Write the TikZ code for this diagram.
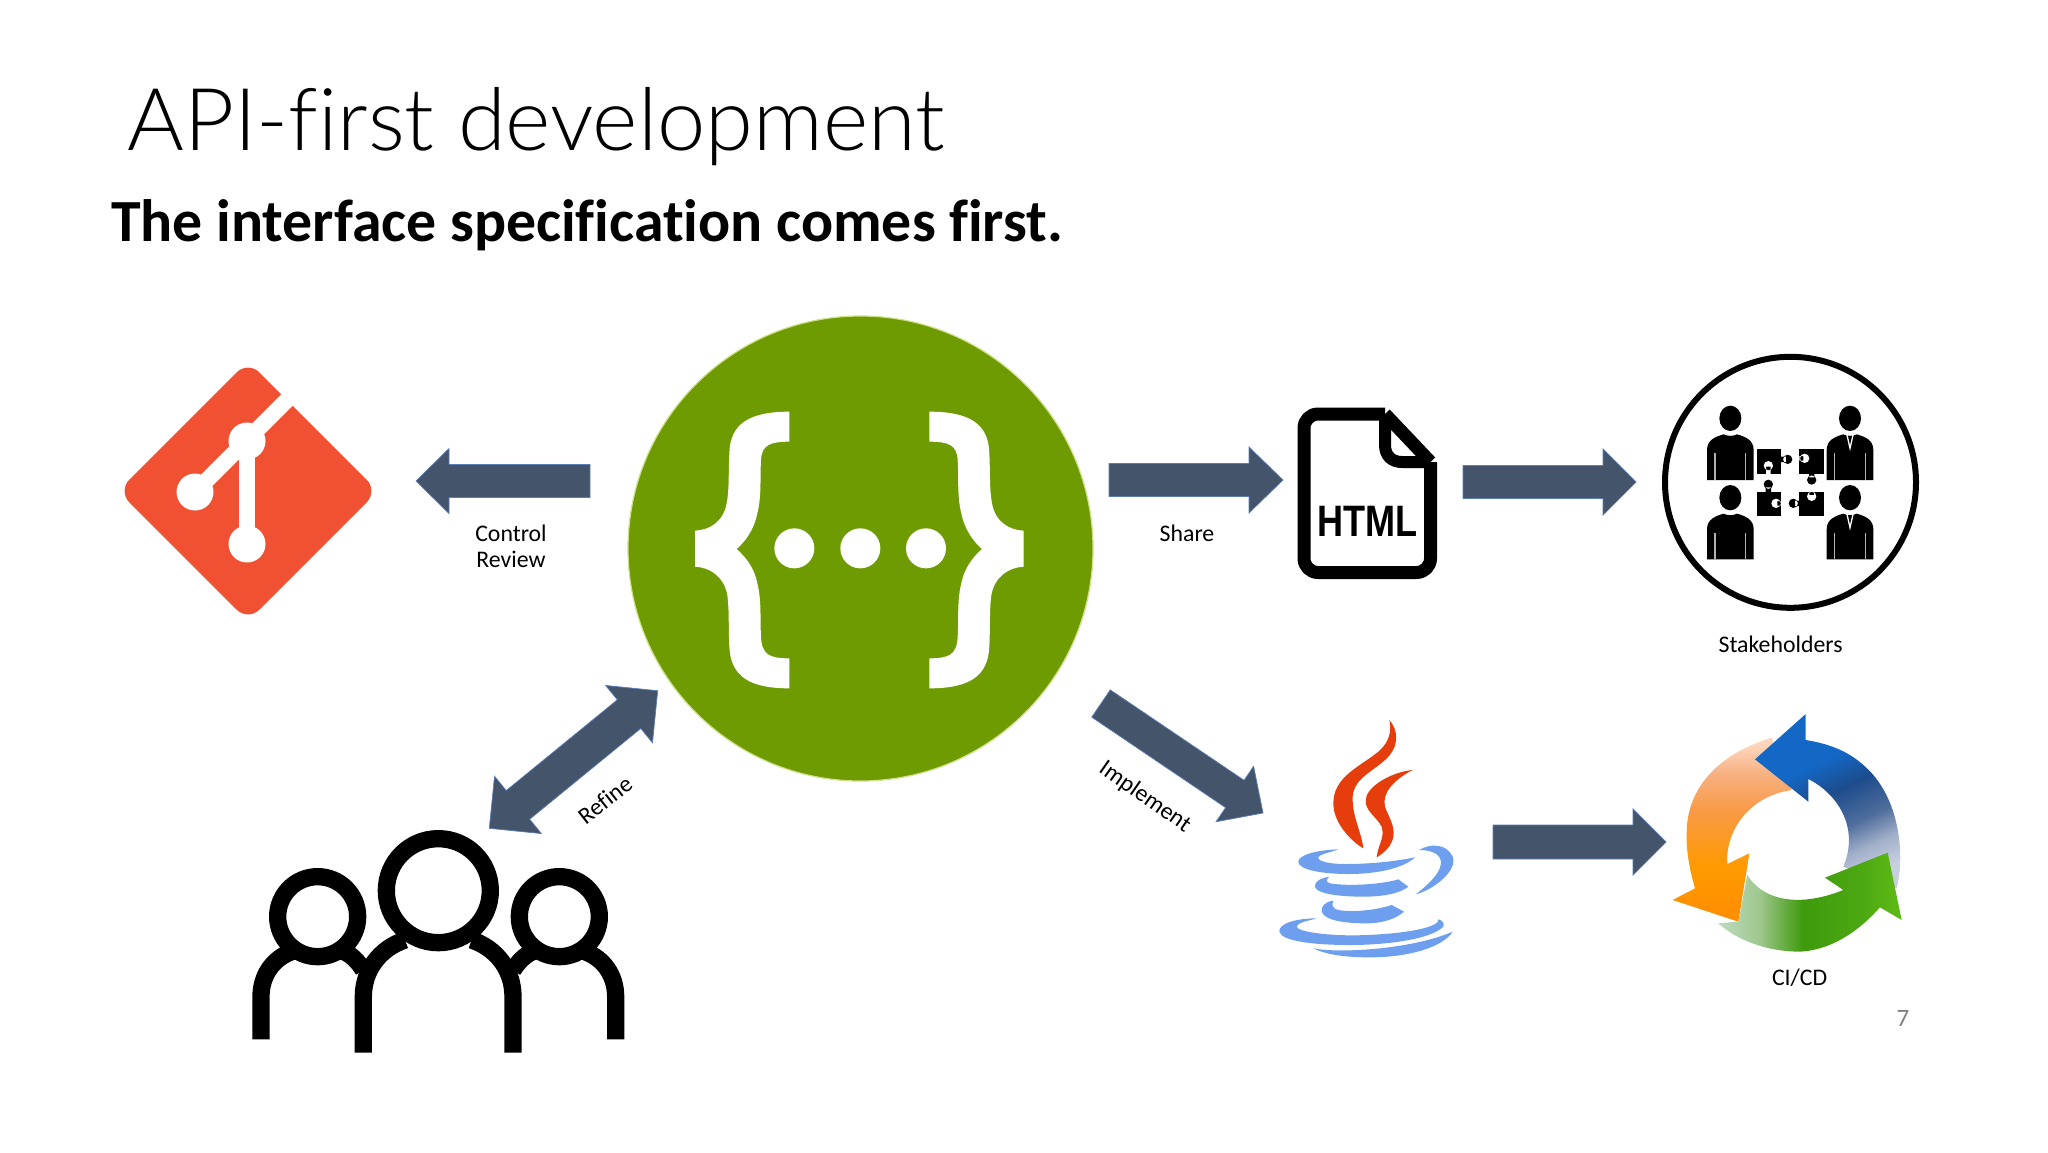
\documentclass[tikz,border=0pt]{standalone}
\usepackage{fontspec}
\setmainfont{Carlito}[Ligatures=NoCommon]
\newfontfamily\htmlfont{Liberation Sans}
\newfontfamily\titlefont{Lato}[UprightFont={* Light},Ligatures=NoCommon]
\usetikzlibrary{calc}
\definecolor{arrowfill}{HTML}{44546A}
\definecolor{arrowedge}{HTML}{5B7DB5}
\definecolor{gitred}{HTML}{F05133}
\definecolor{swgreen}{HTML}{6E9B02}
\definecolor{swhalo}{HTML}{CFE08A}
\definecolor{javared}{HTML}{E53D0B}
\definecolor{javablue}{HTML}{6D9FEE}
\definecolor{orA}{HTML}{FF8C00}
\definecolor{orB}{HTML}{FF9A00}
\definecolor{orC}{HTML}{F99A45}
\definecolor{orD}{HTML}{F7B07F}
\definecolor{orE}{HTML}{FFD6BC}
\definecolor{blA}{HTML}{C8D0E0}
\definecolor{blB}{HTML}{A0AEC8}
\definecolor{blC}{HTML}{4F6D9C}
\definecolor{blD}{HTML}{1D4C8C}
\definecolor{blE}{HTML}{1368C6}
\definecolor{grA}{HTML}{BEDABE}
\definecolor{grB}{HTML}{A0C890}
\definecolor{grC}{HTML}{3F9A0C}
\definecolor{grD}{HTML}{4CA812}
\definecolor{grE}{HTML}{5CB814}
\pgfdeclareverticalshading{orangeramp}{100bp}{color(0bp)=(orA);color(25bp)=(orA);
  color(40bp)=(orB);color(55bp)=(orC);color(65bp)=(orD);color(73bp)=(orE);color(100bp)=(orE)}
\pgfdeclareverticalshading{blueramp}{100bp}{color(0bp)=(blA);color(25bp)=(blA);
  color(33bp)=(blB);color(41bp)=(blC);color(52bp)=(blD);color(62bp)=(blE);color(100bp)=(blE)}
\pgfdeclarehorizontalshading{greenramp}{100bp}{color(0bp)=(grA);color(25bp)=(grA);
  color(36bp)=(grB);color(48bp)=(grC);color(64bp)=(grD);color(73bp)=(grE);color(100bp)=(grE)}
\tikzset{
  blockfill/.style={fill=arrowfill,draw=arrowedge,line width=0.7pt,line join=miter},
  label/.style={font=\fontsize{23.8}{26}\selectfont,text=black,align=center,inner sep=0pt},
  icon/.style={line width=17.3pt,line cap=butt,draw=black},
  notch/.style={fill=white,draw=none},
  piece/.style={fill=black,draw=none}
}
\newcommand\blockarrow[5]{%
  \path[blockfill] ($(#1)!#3pt!90:(#2)$)
    -- ($(#2)!#4pt!(#1)!#3pt!90:(#2)$)
    -- ($(#2)!#4pt!(#1)!#5pt!90:(#2)$)
    -- (#2)
    -- ($(#2)!#4pt!(#1)!#5pt!-90:(#2)$)
    -- ($(#2)!#4pt!(#1)!#3pt!-90:(#2)$)
    -- ($(#1)!#3pt!-90:(#2)$) -- cycle;}
\newcommand\twowayarrow[5]{%
  \path[blockfill] (#1)
    -- ($(#1)!#4pt!(#2)!#5pt!90:(#2)$)
    -- ($(#1)!#4pt!(#2)!#3pt!90:(#2)$)
    -- ($(#2)!#4pt!(#1)!#3pt!90:(#2)$)
    -- ($(#2)!#4pt!(#1)!#5pt!90:(#2)$)
    -- (#2)
    -- ($(#2)!#4pt!(#1)!#5pt!-90:(#2)$)
    -- ($(#2)!#4pt!(#1)!#3pt!-90:(#2)$)
    -- ($(#1)!#4pt!(#2)!#3pt!-90:(#2)$)
    -- ($(#1)!#4pt!(#2)!#5pt!-90:(#2)$) -- cycle;}
\newcommand\stakeperson[3]{%
  \begin{scope}[shift={(#1,#2)}]
    \fill[black] (0,0) ellipse (33 and 38);
    \fill[black] (-70,185) -- (-70,95) .. controls (-70,65) and (-45,55) .. (-20,48)
      .. controls (-10,54) and (10,54) .. (20,48)
      .. controls (45,55) and (70,65) .. (70,95) -- (70,185) -- cycle;
    \draw[white!70!black,line width=1.3pt] (-46,105) -- (-46,185) (46,105) -- (46,185);
    #3
  \end{scope}}
\newcommand\tiemark{\draw[white,line width=1.3pt] (-9,50) -- (0,90) -- (9,50);}
\begin{document}
\begin{tikzpicture}[x=1pt,y=-1pt]
\useasboundingbox (0,0) rectangle (2048,1152);
\fill[white] (0,0) rectangle (2048,1152);

% titles
\node[anchor=base west,inner sep=0pt,text=black] (title) at (127,150)
  {\titlefont\fontsize{86.7}{100}\selectfont API-first development};
\node[anchor=base west,inner sep=0pt,text=black] (subtitle) at (111,241)
  {\fontsize{59.8}{64}\selectfont\bfseries The interface specification comes first.};

% git logo
\node[inner sep=0pt,minimum size=0pt] (git) at (248,491) {};
\fill[gitred,rounded corners=16pt] (248,361) -- (378,491) -- (248,621) -- (118,491) -- cycle;
\draw[white,line width=16pt] (195,492) -- (305,382);
\draw[white,line width=16pt] (247,441) -- (247,544);
\fill[white] (247,441) circle (18.5) (195,492) circle (18.5) (247,544) circle (18.5);

% swagger
\node[circle,fill=swgreen,draw=swhalo,line width=1.2pt,minimum size=465pt,inner sep=0pt] (swagger) at (860.5,548.5) {};
\begin{scope}[shift={(600,300)},scale=1/3]
  \foreach \m/\o in {1/0,-1/1556}{
  \begin{scope}[shift={(\o,0)},xscale=\m]
    \fill[white] (568,335) .. controls (450,335) and (390,370) .. (388,460)
      .. controls (385,520) and (388,570) .. (380,610)
      .. controls (370,665) and (330,690) .. (285,692) -- (285,800)
      .. controls (330,802) and (372,830) .. (382,885)
      .. controls (388,930) and (385,980) .. (388,1040)
      .. controls (392,1130) and (450,1165) .. (568,1165) -- (568,1075)
      .. controls (510,1075) and (485,1065) .. (483,1010)
      .. controls (480,960) and (485,900) .. (472,850)
      .. controls (462,800) and (435,770) .. (410,747)
      .. controls (435,725) and (462,690) .. (472,640)
      .. controls (485,590) and (480,530) .. (483,480)
      .. controls (485,435) and (510,425) .. (568,425) -- cycle;
  \end{scope}}
  \fill[white] (583,745) circle (60) (781,745) circle (60) (978,745) circle (60);
\end{scope}

% html file icon
\node[inner sep=0pt] (html) at (1367,493) {};
\draw[black,line width=13pt,line join=round,rounded corners=14pt]
  (1385,414) -- (1304,414) -- (1304,572.5) -- (1430.5,572.5) -- (1430.5,462);
\draw[black,line width=13pt,line join=round] (1385,414) -- (1430.5,462);
\draw[black,line width=12pt,line join=round]
  (1385,414) -- (1385,445) .. controls (1385,456) and (1392,462) .. (1402,462) -- (1430.5,462);
\node[xscale=0.82,inner sep=0pt,transform shape] (htmltext) at (1367.5,521)
  {\htmlfont\fontsize{44}{44}\selectfont\bfseries HTML};

% stakeholders icon
\node[circle,draw=black,line width=6pt,minimum size=251pt,inner sep=0pt] (stake) at (1790.5,482.3) {};
\begin{scope}[shift={(1660,350)},scale=1/3]
  \stakeperson{211}{205}{}
  \stakeperson{570}{205}{\tiemark}
  \stakeperson{211}{443}{}
  \stakeperson{570}{443}{\tiemark}
  % puzzle pieces
  \fill[piece] (290,297) rectangle (362,372);
  \fill[piece] (360,320) rectangle (378,336) (383,328) circle (14);
  \fill[notch] (325,347) circle (14) (318,350) rectangle (332,372);
  \fill[piece] (418,297) rectangle (492,372);
  \fill[piece] (447,370) rectangle (463,382) (455,390) circle (14);
  \fill[notch] (434,325) circle (14) (418,318) rectangle (430,332);
  \fill[piece] (290,425) rectangle (362,498);
  \fill[piece] (317,412) rectangle (333,427) (325,403) circle (14);
  \fill[notch] (348,460) circle (14) (352,453) rectangle (362,467);
  \fill[piece] (418,425) rectangle (492,498);
  \fill[piece] (405,452) rectangle (420,468) (400,460) circle (14);
  \fill[notch] (455,439) circle (14) (448,425) rectangle (462,435);
\end{scope}

% people icon
\node[inner sep=0pt] (people) at (440,900) {};
\begin{scope}[shift={(230,680)},scale=1/3]
  \draw[icon] (625,632) circle (156);
  \draw[icon] (263,710) circle (120);
  \draw[icon] (988,710) circle (120);
  \draw[icon] (400,1118) -- (400,950) .. controls (400,870) and (450,805) .. (525,780);
  \draw[icon] (849,1118) -- (849,950) .. controls (849,870) and (800,805) .. (725,780);
  \draw[icon] (93,1078) -- (93,950) .. controls (93,885) and (130,835) .. (185,815);
  \draw[icon] (342,815) .. controls (365,825) and (385,845) .. (400,870);
  \draw[icon] (1157,1078) -- (1157,950) .. controls (1157,885) and (1120,835) .. (1065,815);
  \draw[icon] (908,815) .. controls (885,825) and (865,845) .. (849,870);
\end{scope}

% java logo
\node[inner sep=0pt] (java) at (1373,845) {};
\begin{scope}[shift={(1270,710)},scale=1/3]
  \fill[javared] (358,30) .. controls (385,60) and (390,110) .. (345,150)
    .. controls (300,190) and (245,210) .. (248,270)
    .. controls (248,320) and (275,370) .. (280,415)
    .. controls (245,395) and (190,340) .. (190,280)
    .. controls (190,200) and (270,170) .. (325,125)
    .. controls (360,95) and (365,60) .. (358,30) -- cycle;
  \fill[javared] (428,180) .. controls (370,210) and (335,250) .. (345,290)
    .. controls (355,320) and (375,345) .. (370,380)
    .. controls (365,410) and (340,430) .. (320,442)
    .. controls (325,400) and (345,385) .. (335,350)
    .. controls (320,320) and (280,300) .. (288,265)
    .. controls (295,225) and (370,185) .. (428,180) -- cycle;
  \fill[javablue] (205,418) .. controls (140,420) and (85,435) .. (85,455)
    .. controls (85,480) and (160,492) .. (235,492)
    .. controls (320,492) and (400,475) .. (435,442)
    .. controls (370,455) and (300,462) .. (225,462)
    .. controls (170,462) and (130,450) .. (150,437)
    .. controls (165,428) and (190,425) .. (205,418) -- cycle;
  \fill[javablue] (447,420) .. controls (480,400) and (530,400) .. (548,440)
    .. controls (565,480) and (490,540) .. (437,553)
    .. controls (480,520) and (520,480) .. (512,450)
    .. controls (505,425) and (470,420) .. (447,420) -- cycle;
  \fill[javablue] (178,500) .. controls (150,505) and (133,515) .. (135,530)
    .. controls (140,555) and (230,560) .. (280,560)
    .. controls (340,560) and (390,550) .. (415,530) -- (385,508)
    .. controls (340,522) and (240,530) .. (180,520)
    .. controls (165,515) and (170,507) .. (178,500) -- cycle;
  \fill[javablue] (190,572) .. controls (165,575) and (152,590) .. (155,605)
    .. controls (165,635) and (240,640) .. (290,640)
    .. controls (340,640) and (380,625) .. (402,605) -- (365,585)
    .. controls (320,600) and (250,608) .. (205,600)
    .. controls (185,595) and (185,582) .. (190,572) -- cycle;
  \fill[javablue] (140,625) .. controls (80,625) and (25,640) .. (28,665)
    .. controls (35,695) and (140,705) .. (240,705)
    .. controls (340,705) and (480,690) .. (520,650)
    .. controls (525,640) and (515,630) .. (505,628)
    .. controls (510,650) and (420,670) .. (290,675)
    .. controls (180,680) and (80,665) .. (80,650)
    .. controls (85,635) and (120,632) .. (140,625) -- cycle;
  \fill[javablue] (130,715) .. controls (200,730) and (420,720) .. (548,665)
    .. controls (520,710) and (420,742) .. (300,742)
    .. controls (230,742) and (170,735) .. (130,715) -- cycle;
\end{scope}

% CI/CD cycle
\node[inner sep=0pt] (cicd) at (1797,835) {};
\begin{scope}[shift={(1660,700)},scale=1/3]
  \shade[shading=orangeramp]
    (335,113) .. controls (180,160) and (80,260) .. (80,400)
    .. controls (78,460) and (92,520) .. (105,565) -- (38,600) -- (235,665) -- (268,460) -- (202,492)
    .. controls (195,400) and (260,290) .. (395,270) -- cycle;
  \shade[shading=blueramp,shading angle=25]
    (437,42) -- (285,178) -- (445,305) -- (445,237)
    .. controls (530,280) and (600,380) .. (550,500) -- (710,565)
    .. controls (735,470) and (722,290) .. (610,195)
    .. controls (560,150) and (500,130) .. (437,120) -- cycle;
  \shade[shading=greenramp]
    (262,525) .. controls (300,590) and (400,630) .. (550,570) -- (495,533) -- (683,458) -- (725,660) -- (660,622)
    .. controls (590,700) and (510,750) .. (420,755)
    .. controls (320,755) and (230,720) .. (175,670) -- (235,665) -- cycle;
\end{scope}

% block arrows
\coordinate (ctrlTail) at (590,481);
\coordinate (ctrlTip) at (416,481);
\blockarrow{ctrlTail}{ctrlTip}{16.5}{33}{32.5}
\coordinate (shareTail) at (1109,480);
\coordinate (shareTip) at (1283,480);
\blockarrow{shareTail}{shareTip}{16.5}{34}{33}
\coordinate (stakeTail) at (1463,482);
\coordinate (stakeTip) at (1636,482);
\blockarrow{stakeTail}{stakeTip}{16.5}{33}{33}
\coordinate (implTail) at (1101,703.5);
\coordinate (implTip) at (1263,813);
\blockarrow{implTail}{implTip}{16.5}{34}{33.5}
\coordinate (ciTail) at (1493,842);
\coordinate (ciTip) at (1666,842);
\blockarrow{ciTail}{ciTip}{17}{33}{33}
\coordinate (refineA) at (489.3,828.3);
\coordinate (refineB) at (657.7,690.7);
\twowayarrow{refineA}{refineB}{18.5}{37}{37}

% labels
\node[label] (control) at (511,546) {Control\\Review};
\node[label] (share) at (1187,533) {Share};
\node[label] (stakeholders) at (1780.6,644) {Stakeholders};
\node[label] (cicdlabel) at (1799.6,978) {CI/CD};
\node[label,rotate=38] (refine) at (605,800) {Refine};
\node[label,rotate=-35] (implement) at (1145,797) {Implement};
\node[label,text=black!50] (pagenum) at (1903,1018) {\fontsize{25}{28}\selectfont 7};
\end{tikzpicture}
\end{document}
